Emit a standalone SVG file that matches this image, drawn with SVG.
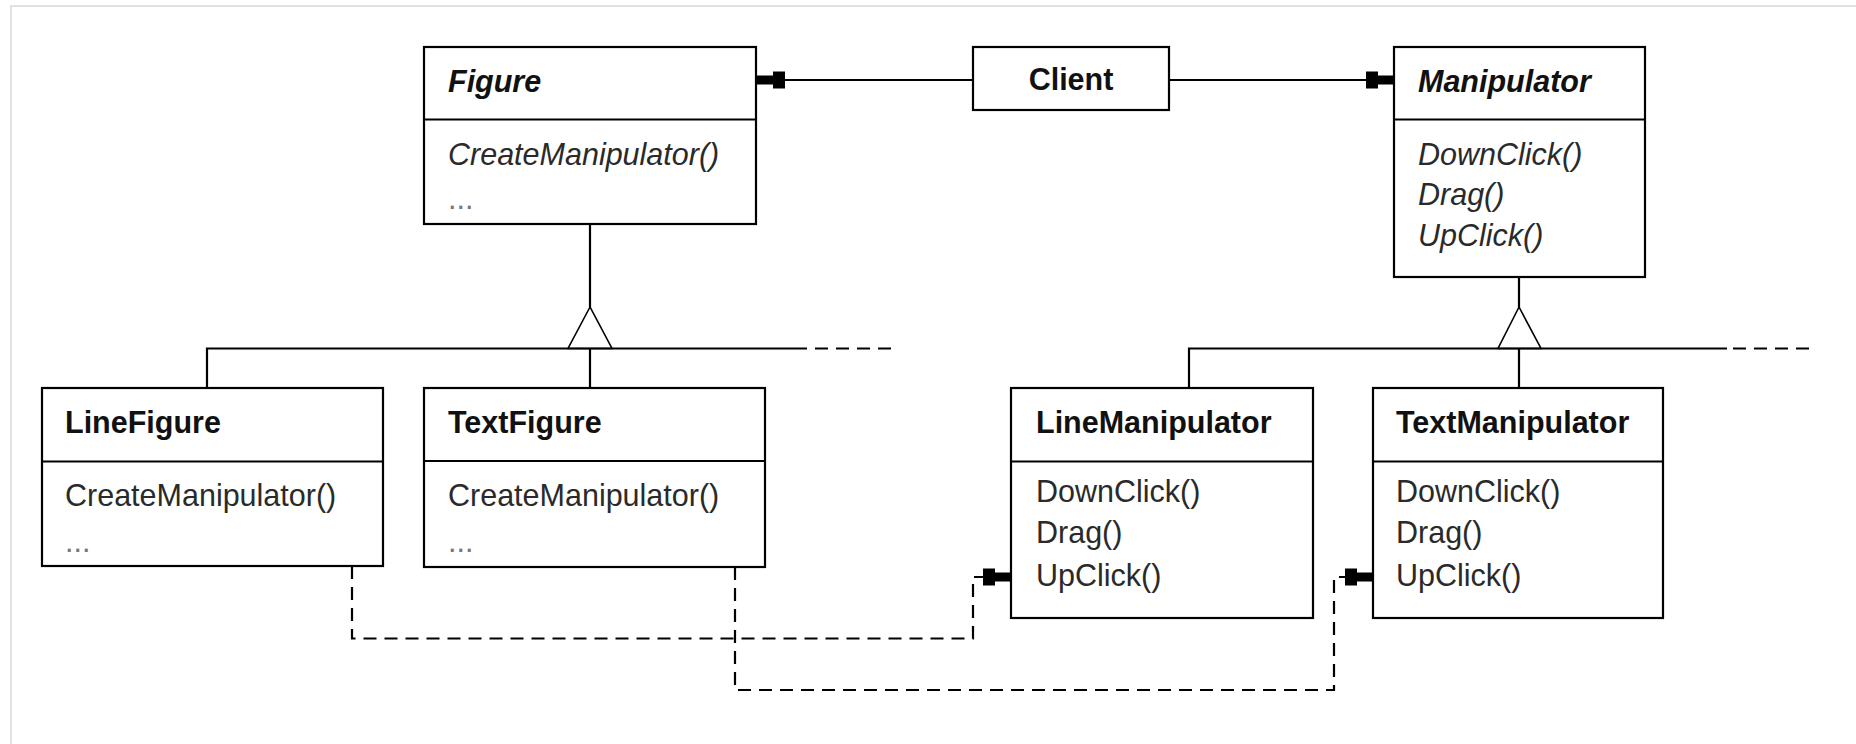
<svg xmlns="http://www.w3.org/2000/svg" width="1856" height="744" viewBox="0 0 1856 744">
<style>
.box{fill:#fff;stroke:#000;stroke-width:2.2}
.div{stroke:#000;stroke-width:2.2}
.ln{fill:none;stroke:#000;stroke-width:2.2}
.dash{fill:none;stroke:#000;stroke-width:2.2;stroke-dasharray:13 8}
.tri{fill:#fff;stroke:#000;stroke-width:1.6;stroke-linejoin:miter}
.cls{font-family:"Liberation Sans",Arial,sans-serif;font-size:30.5px;font-weight:bold;fill:#111}
.abs{font-style:italic}
.op{font-family:"Liberation Sans",Arial,sans-serif;font-size:30.5px;fill:#2a2a2a}
.ell{font-family:"Liberation Sans",Arial,sans-serif;font-size:30.5px;fill:#777}
</style>
<defs>
<marker id="ref" markerUnits="userSpaceOnUse" viewBox="-29 -9 30 18" refX="0" refY="0" markerWidth="30" markerHeight="18" orient="auto">
<path d="M-28,-8.5 L-16,-8.5 L-16,-4.5 L0,-4.5 L0,4.5 L-16,4.5 L-16,8.5 L-28,8.5 Z" fill="#000"/>
</marker>
</defs>
<rect width="1856" height="744" fill="#fff"/>
<polyline points="11,744 11,6 1856,6" fill="none" stroke="#d8d8d8" stroke-width="1.5"/>

<g id="connectors">
<line class="ln" x1="973" y1="80" x2="757" y2="80" marker-end="url(#ref)"/>
<line class="ln" x1="1169" y1="80" x2="1394" y2="80" marker-end="url(#ref)"/>
<polyline class="ln" points="590,224 590,307"/>
<polygon class="tri" points="590,307 568,348.5 612,348.5"/>
<polyline class="ln" points="207,388 207,348.5 807,348.5"/>
<line class="dash" x1="815" y1="348.5" x2="891" y2="348.5"/>
<line class="ln" x1="590" y1="348.5" x2="590" y2="388"/>
<polyline class="ln" points="1519,277 1519,307"/>
<polygon class="tri" points="1519,307 1498,348.5 1541,348.5"/>
<polyline class="ln" points="1189,388 1189,348.5 1727,348.5"/>
<line class="dash" x1="1733" y1="348.5" x2="1811" y2="348.5"/>
<line class="ln" x1="1519" y1="348.5" x2="1519" y2="388"/>
<path class="dash" d="M352,566 V638.5 H973 V577 H1011" marker-end="url(#ref)"/>
<path class="dash" d="M735,567 V690 H1334 V577 H1373" marker-end="url(#ref)"/>
</g>

<g id="figure">
<rect class="box" x="424" y="47" width="332" height="177"/>
<line class="div" x1="424" y1="119.5" x2="756" y2="119.5"/>
<text class="cls abs" x="448" y="92">Figure</text>
<text class="op abs" x="448" y="165">CreateManipulator()</text>
<text class="ell" x="448" y="209">...</text>
</g>

<g id="client">
<rect class="box" x="973" y="47" width="196" height="63"/>
<text class="cls" x="1071" y="90" text-anchor="middle">Client</text>
</g>

<g id="manipulator">
<rect class="box" x="1394" y="47" width="251" height="230"/>
<line class="div" x1="1394" y1="119.5" x2="1645" y2="119.5"/>
<text class="cls abs" x="1418" y="92">Manipulator</text>
<text class="op abs" x="1418" y="165">DownClick()</text>
<text class="op abs" x="1418" y="205">Drag()</text>
<text class="op abs" x="1418" y="246">UpClick()</text>
</g>

<g id="linefigure">
<rect class="box" x="42" y="388" width="341" height="178"/>
<line class="div" x1="42" y1="461.5" x2="383" y2="461.5"/>
<text class="cls" x="65" y="433">LineFigure</text>
<text class="op" x="65" y="506">CreateManipulator()</text>
<text class="ell" x="65" y="552">...</text>
</g>

<g id="textfigure">
<rect class="box" x="424" y="388" width="341" height="179"/>
<line class="div" x1="424" y1="461" x2="765" y2="461"/>
<text class="cls" x="448" y="433">TextFigure</text>
<text class="op" x="448" y="506">CreateManipulator()</text>
<text class="ell" x="448" y="552">...</text>
</g>

<g id="linemanipulator">
<rect class="box" x="1011" y="388" width="302" height="230"/>
<line class="div" x1="1011" y1="461.5" x2="1313" y2="461.5"/>
<text class="cls" x="1036" y="433">LineManipulator</text>
<text class="op" x="1036" y="502">DownClick()</text>
<text class="op" x="1036" y="543">Drag()</text>
<text class="op" x="1036" y="586">UpClick()</text>
</g>

<g id="textmanipulator">
<rect class="box" x="1373" y="388" width="290" height="230"/>
<line class="div" x1="1373" y1="461.5" x2="1663" y2="461.5"/>
<text class="cls" x="1396" y="433">TextManipulator</text>
<text class="op" x="1396" y="502">DownClick()</text>
<text class="op" x="1396" y="543">Drag()</text>
<text class="op" x="1396" y="586">UpClick()</text>
</g>
</svg>
